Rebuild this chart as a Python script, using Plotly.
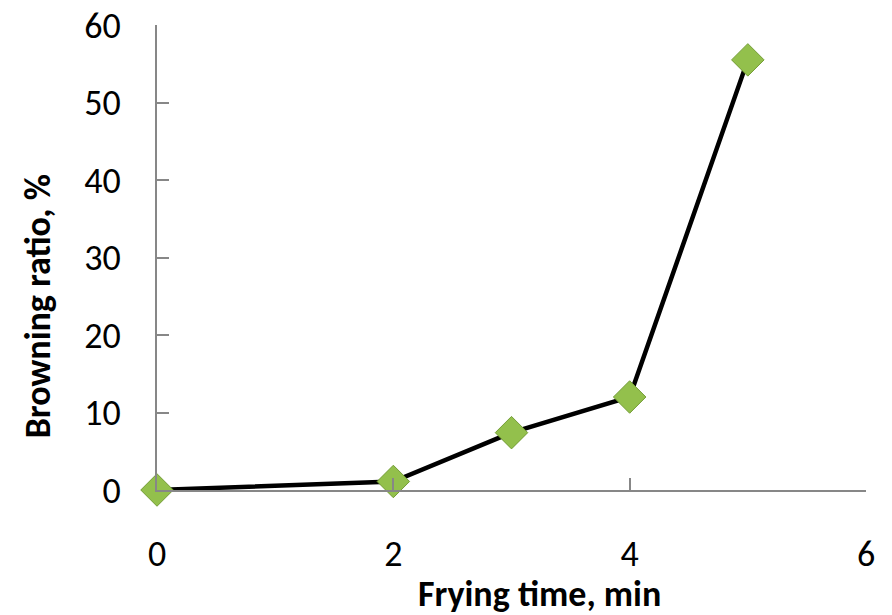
import plotly.graph_objects as go

frying_time = [0, 2, 3, 4, 5]
browning_ratio = [0.0, 1.1, 7.4, 12.0, 55.5]
x_ticks = [0, 2, 4, 6]
y_ticks = [0, 10, 20, 30, 40, 50, 60]
x_title = "Frying time, min"
y_title = "Browning ratio, %"

fig = go.Figure()
fig.add_trace(go.Scatter(
    x=frying_time, y=browning_ratio, mode="lines+markers",
    line=dict(color="black", width=4.5),
    marker=dict(symbol="diamond", size=25, color="#93c04c",
                line=dict(color="#739c35", width=1)),
    cliponaxis=False, showlegend=False,
))

font_family = "Carlito, Calibri, Lato, 'Open Sans', sans-serif"
fig.update_layout(
    width=892, height=615,
    margin=dict(l=149, r=34, t=17, b=133),
    paper_bgcolor="white", plot_bgcolor="white",
    font=dict(family=font_family, size=36, color="black"),
    xaxis=dict(
        range=[0, 6], tickvals=x_ticks, showgrid=False, zeroline=False,
        showline=True, linecolor="#878787", linewidth=2, automargin=False,
        ticks="inside", ticklen=12, tickcolor="#878787", tickwidth=2,
        ticklabelstandoff=31, tickfont=dict(size=36), ticklabeloverflow="allow",
    ),
    yaxis=dict(
        range=[0, 60], tickvals=y_ticks, showgrid=False, zeroline=False,
        showline=True, linecolor="#878787", linewidth=2, automargin=False,
        ticks="inside", ticklen=12, tickcolor="#878787", tickwidth=2,
        ticklabelstandoff=27, tickfont=dict(size=36), ticklabeloverflow="allow",
    ),
    annotations=[
        dict(text="<b>" + x_title + "</b>", xref="paper", yref="paper",
             x=0.540, y=0, xanchor="center", yanchor="middle", yshift=-104,
             showarrow=False, font=dict(size=36)),
        dict(text="<b>" + y_title + "</b>", xref="paper", yref="paper",
             x=0, y=0.395, xanchor="center", yanchor="middle", xshift=-119,
             textangle=-90, showarrow=False, font=dict(size=36)),
    ],
)
fig.write_html("out.html")
